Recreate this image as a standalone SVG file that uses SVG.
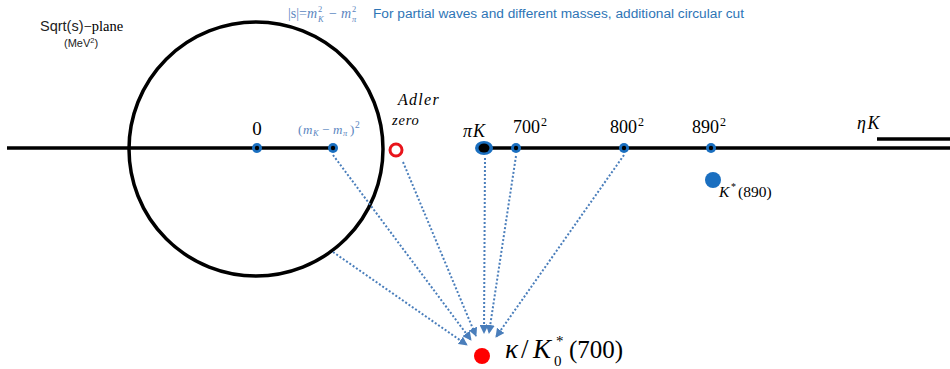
<svg xmlns="http://www.w3.org/2000/svg" width="950" height="369" viewBox="0 0 950 369">
<style>
.serif{font-family:"Liberation Serif","DejaVu Serif",serif;fill:#000}
.it{font-style:italic}
.sans{font-family:"Liberation Sans",Arial,sans-serif}
.dot{fill:#1a6fc0}
.core{fill:#000}
.lb{fill:#5b86c0}
.arr{stroke:#4a7ebb;stroke-width:2;stroke-dasharray:2 2;fill:none;marker-end:url(#ah)}
</style>
<defs>
<marker id="ah" viewBox="0 0 10 10" refX="9" refY="5" markerWidth="4.5" markerHeight="4.5" orient="auto" markerUnits="strokeWidth">
<path d="M0,0 L10,5 L0,10 z" fill="#4a7ebb"/>
</marker>
</defs>
<rect width="950" height="369" fill="#fff"/>

<g id="axes">
<line x1="7" y1="148" x2="333" y2="148" stroke="#000" stroke-width="3.5"/>
<line x1="484" y1="148" x2="950" y2="148" stroke="#000" stroke-width="3.5"/>
<line x1="877" y1="139" x2="950" y2="139" stroke="#000" stroke-width="3.5"/>
<circle cx="256" cy="149" r="127" fill="none" stroke="#000" stroke-width="3.5"/>
</g>

<g id="title">
<text x="40" y="31" font-size="14.5" class="sans" fill="#222">Sqrt(s)<tspan class="serif" fill="#222">−plane</tspan></text>
<text x="64" y="47" font-size="11" class="sans" fill="#222">(MeV<tspan font-size="7.5" dy="-4">2</tspan><tspan dy="4">)</tspan></text>
</g>

<g id="note">
<text y="18" font-size="14" class="serif lb"><tspan x="288">|s|=</tspan><tspan x="307" font-style="italic">m</tspan><tspan x="318" y="22" font-size="8.5" font-style="italic">K</tspan><tspan x="318" y="12" font-size="8.5">2</tspan><tspan x="329" y="18">−</tspan><tspan x="341" font-style="italic">m</tspan><tspan x="352" y="22" font-size="8.5" font-style="italic">π</tspan><tspan x="352" y="12" font-size="8.5">2</tspan></text>
<text x="373" y="18" font-size="13.7" class="sans" fill="#2e75b6">For partial waves and different masses, additional circular cut</text>
</g>

<g id="n-zero">
<circle cx="257" cy="148" r="5" class="dot"/><circle cx="257" cy="148" r="2.2" class="core"/>
<text x="257" y="135" font-size="19" class="serif" text-anchor="middle">0</text>
</g>

<g id="n-threshold">
<circle cx="333" cy="148" r="5" class="dot"/><circle cx="333" cy="148" r="2.2" class="core"/>
<text y="134" font-size="13" class="serif lb"><tspan x="298">(</tspan><tspan x="303" font-style="italic">m</tspan><tspan x="313" y="136" font-size="8.5" font-style="italic">K</tspan><tspan x="322" y="134">−</tspan><tspan x="333" font-style="italic">m</tspan><tspan x="343" y="136" font-size="8.5" font-style="italic">π</tspan><tspan x="350" y="134">)</tspan><tspan x="355" y="128" font-size="9.5">2</tspan></text>
</g>

<g id="n-adler">
<circle cx="396" cy="150" r="6" fill="none" stroke="#e8141b" stroke-width="3"/>
<text x="398" y="105" font-size="16" letter-spacing="1.3" class="serif it">Adler</text>
<text x="392" y="125" font-size="14.5" letter-spacing="0.8" class="serif it">zero</text>
</g>

<g id="n-piK">
<ellipse cx="484" cy="148" rx="9" ry="7" class="dot"/><ellipse cx="484" cy="148" rx="5.5" ry="4.5" class="core"/>
<text x="463" y="137" font-size="18" letter-spacing="1" class="serif it">πK</text>
</g>

<g id="n-700">
<circle cx="516" cy="148" r="5" class="dot"/><circle cx="516" cy="148" r="2.2" class="core"/>
<text x="513" y="133" font-size="18" class="serif">700<tspan font-size="12" dy="-7" dx="1">2</tspan></text>
</g>

<g id="n-800">
<circle cx="624" cy="148" r="5" class="dot"/><circle cx="624" cy="148" r="2.2" class="core"/>
<text x="610" y="133" font-size="18" class="serif">800<tspan font-size="12" dy="-7" dx="1">2</tspan></text>
</g>

<g id="n-890">
<circle cx="711" cy="148" r="5" class="dot"/><circle cx="711" cy="148" r="2.2" class="core"/>
<text x="692" y="133" font-size="18" class="serif">890<tspan font-size="12" dy="-7" dx="1">2</tspan></text>
</g>

<g id="n-etaK">
<text x="857" y="129" font-size="18" letter-spacing="1.5" class="serif it">ηK</text>
</g>

<g id="n-Kstar">
<circle cx="713" cy="180" r="8" class="dot"/>
<text y="197" font-size="15.5" class="serif"><tspan x="719" font-style="italic">K</tspan><tspan x="731" y="190" font-size="10">*</tspan><tspan x="738" y="197">(890)</tspan></text>
</g>

<g id="n-kappa">
<circle cx="482" cy="356" r="8" fill="#f00"/>
<text y="358" font-size="27" class="serif"><tspan x="505" font-style="italic">κ</tspan><tspan x="521">/</tspan><tspan x="533" font-style="italic">K</tspan><tspan x="554" y="366" font-size="15">0</tspan><tspan x="556" y="346" font-size="15">*</tspan><tspan x="569" y="358" font-size="25">(700)</tspan></text>
</g>

<g id="connectors">
<line class="arr" x1="333" y1="155" x2="471" y2="340"/>
<line class="arr" x1="403" y1="162" x2="476" y2="336"/>
<line class="arr" x1="485" y1="158" x2="484" y2="333"/>
<line class="arr" x1="516" y1="156" x2="489" y2="333"/>
<line class="arr" x1="624" y1="155" x2="496" y2="337"/>
<line class="arr" x1="333" y1="252" x2="467" y2="345"/>
</g>
</svg>
